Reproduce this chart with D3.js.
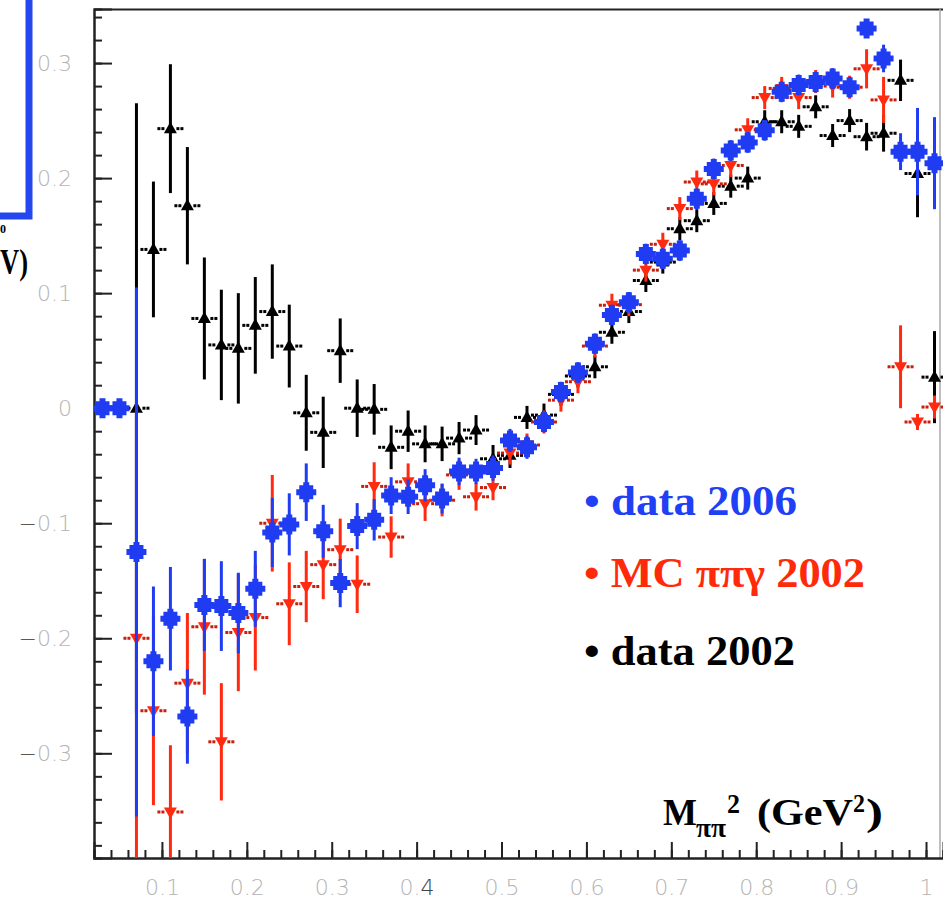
<!DOCTYPE html>
<html>
<head>
<meta charset="utf-8">
<script src="https://cdn.jsdelivr.net/npm/d3@7"></script>
<style>
  html, body { margin: 0; padding: 0; background: #fff; }
  svg { display: block; }
</style>
</head>
<body>
<svg id="chart" width="943" height="900"></svg>
<script>
// Bin centres in M_pipi^2 (GeV^2)
const massBins = [0.03, 0.05, 0.07, 0.09, 0.11, 0.13, 0.15, 0.17, 0.19, 0.21,
                  0.23, 0.25, 0.27, 0.29, 0.31, 0.33, 0.35, 0.37, 0.39, 0.41,
                  0.43, 0.45, 0.47, 0.49, 0.51, 0.53, 0.55, 0.57, 0.59, 0.61,
                  0.63, 0.65, 0.67, 0.69, 0.71, 0.73, 0.75, 0.77, 0.79, 0.81,
                  0.83, 0.85, 0.87, 0.89, 0.91, 0.93, 0.95, 0.97, 0.99, 1.01];

// data 2006
const data2006 = [0.0, 0.0, -0.125, -0.220, -0.183, -0.268, -0.171, -0.172, -0.178, -0.157,
                  -0.108, -0.101, -0.073, -0.107, -0.152, -0.1025, -0.097, -0.076, -0.077, -0.067,
                  -0.0785, -0.055, -0.055, -0.052, -0.028, -0.034, -0.012, 0.014, 0.031, 0.056,
                  0.081, 0.092, 0.134, 0.130, 0.137, 0.182, 0.208, 0.224, 0.231, 0.2415,
                  0.275, 0.281, 0.2835, 0.2865, 0.279, 0.330, 0.304, 0.223, 0.223, 0.213];
const data2006Err = [0, 0, 0.230, 0.065, 0.045, 0.041, 0.040, 0.039, 0.035, 0.033,
                     0.030, 0.027, 0.025, 0.023, 0.021, 0.020, 0.018, 0.016, 0.015, 0.014,
                     0.013, 0.012, 0.011, 0.011, 0.010, 0.010, 0.009, 0.009, 0.009, 0.009,
                     0.009, 0.009, 0.009, 0.009, 0.009, 0.009, 0.009, 0.009, 0.009, 0.009,
                     0.009, 0.009, 0.009, 0.009, 0.009, 0.005, 0.012, 0.016, 0.038, 0.040];

// MC pi pi gamma 2002
const mc2002 = [null, null, -0.200, -0.263, -0.351, -0.239, -0.190, -0.290, -0.195, -0.182,
                -0.100, -0.170, -0.155, -0.136, -0.123, -0.153, -0.068, -0.112, -0.064, -0.083,
                -0.080, -0.058, -0.077, -0.069, -0.039, -0.032, -0.012, 0.007, 0.023, 0.054,
                0.0895, 0.090, 0.120, 0.1425, 0.1735, 0.1966, 0.195, 0.211, 0.242, 0.270,
                0.278, 0.270, 0.284, 0.280, 0.279, 0.295, 0.268, 0.036, -0.012, 0.001];
const mc2002Err = [null, null, 0.200, 0.082, 0.058, 0.061, 0.059, 0.051, 0.051, 0.046,
                   0.042, 0.036, 0.031, 0.030, 0.027, 0.025, 0.021, 0.018, 0.016, 0.015,
                   0.014, 0.013, 0.012, 0.011, 0.010, 0.010, 0.010, 0.010, 0.010, 0.010,
                   0.010, 0.010, 0.010, 0.010, 0.010, 0.010, 0.010, 0.010, 0.010, 0.010,
                   0.010, 0.010, 0.010, 0.010, 0.010, 0.017, 0.020, 0.036, 0.007, 0.010];

// data 2002
const data2002 = [null, null, 0.0, 0.138, 0.243, 0.176, 0.078, 0.055, 0.052, 0.072,
                  0.084, 0.054, -0.004, -0.021, 0.050, 0.0, -0.001, -0.034, -0.020, -0.031,
                  -0.031, -0.026, -0.019, -0.044, -0.041, -0.008, -0.006, 0.012, 0.028, 0.036,
                  0.066, 0.084, 0.111, 0.127, 0.156, 0.163, 0.178, 0.193, 0.200, 0.249,
                  0.249, 0.245, 0.262, 0.237, 0.250, 0.236, 0.239, 0.285, 0.204, 0.027];
const data2002Err = [null, null, 0.265, 0.059, 0.056, 0.051, 0.053, 0.048, 0.048, 0.042,
                     0.041, 0.036, 0.033, 0.031, 0.028, 0.025, 0.022, 0.019, 0.018, 0.016,
                     0.015, 0.014, 0.013, 0.012, 0.011, 0.010, 0.010, 0.010, 0.010, 0.010,
                     0.010, 0.010, 0.010, 0.010, 0.010, 0.010, 0.010, 0.010, 0.010, 0.010,
                     0.010, 0.010, 0.010, 0.010, 0.010, 0.012, 0.016, 0.018, 0.038, 0.040];

// Axis tick labels
const xTickValues = [0.1, 0.2, 0.3, 0.4, 0.5, 0.6, 0.7, 0.8, 0.9, 1.0];
const xTickLabels = ["0.1", "0.2", "0.3", "0.4", "0.5", "0.6", "0.7", "0.8", "0.9", "1"];
const yTickValues = [-0.3, -0.2, -0.1, 0, 0.1, 0.2, 0.3];
const yTickLabels = ["\u22120.3", "\u22120.2", "\u22120.1", "0", "0.1", "0.2", "0.3"];

// Legend entries
const legendLabels = ["\u2022 data 2006", "\u2022 MC \u03c0\u03c0\u03b3 2002", "\u2022 data 2002"];

const svg = d3.select("#chart");
const W = 943, H = 900;
const plot = { left: 94, right: 943, top: 9, bottom: 858 };

const x = d3.scaleLinear().domain([0.02, 1.02]).range([plot.left, plot.right]);
const y = d3.scaleLinear().domain([-0.391, 0.347]).range([plot.bottom, plot.top]);

const serif = "'Liberation Serif', 'Times New Roman', serif";
const sans = "'DejaVu Sans', 'Liberation Sans', Arial, sans-serif";

const BLUE = "#1f3cf2", RED = "#ff2a10", RED_DARK = "#c81e0c", BLACK = "#000";

// ---- clipped fragment of the neighbouring panel on the left ----
svg.append("path")
  .attr("d", "M29,-5 L29,216 L-5,216")
  .attr("fill", "none").attr("stroke", "#2447ef").attr("stroke-width", 7);
svg.append("text").attr("x", 0).attr("y", 233)
  .attr("font-family", serif).attr("font-weight", "bold").attr("font-size", 12)
  .text("0");
svg.append("text").attr("x", 0).attr("y", 274)
  .attr("font-family", serif).attr("font-weight", "bold").attr("font-size", 36)
  .attr("textLength", 28).attr("lengthAdjust", "spacingAndGlyphs")
  .text("V)");

// ---- frame ----
svg.append("line").attr("x1", plot.left).attr("x2", W).attr("y1", plot.top + 0.5).attr("y2", plot.top + 0.5)
  .attr("stroke", "#222").attr("stroke-width", 2);
svg.append("line").attr("x1", 940).attr("x2", 940).attr("y1", plot.top).attr("y2", plot.bottom)
  .attr("stroke", "#aaa").attr("stroke-width", 1.5);

// ---- axes ----
function styleAxis(g) {
  g.select(".domain").attr("stroke", "#222").attr("stroke-width", 2);
  g.selectAll(".tick line").attr("stroke", "#222").attr("stroke-width", 2);
}

// y minor ticks
const yMinor = d3.range(-0.38, 0.341, 0.02).map(v => Math.round(v * 100) / 100);
svg.append("g").attr("transform", `translate(${plot.left},0)`)
  .call(d3.axisLeft(y).tickValues(yMinor).tickSize(-8).tickFormat(""))
  .call(styleAxis);
// y major ticks + labels
const yAxisG = svg.append("g").attr("transform", `translate(${plot.left},0)`)
  .call(d3.axisLeft(y).tickValues(yTickValues).tickSize(-18).tickPadding(22)
        .tickFormat((d, i) => yTickLabels[i]))
  .call(styleAxis);
yAxisG.selectAll(".tick text")
  .attr("font-family", sans).attr("font-size", 22).attr("font-weight", 300).attr("fill", "#b4b4b4")
  .each(function () {
    const t = d3.select(this);
    const s = t.text();
    if (s.startsWith("\u2212")) {
      t.text(null);
      t.append("tspan").attr("fill", "#333").text("\u2212");
      t.append("tspan").text(s.slice(1));
    }
  });

// x minor ticks
const xMinor = d3.range(0.02, 1.021, 0.02).map(v => Math.round(v * 100) / 100);
svg.append("g").attr("transform", `translate(0,${plot.bottom})`)
  .call(d3.axisBottom(x).tickValues(xMinor).tickSize(-8).tickFormat(""))
  .call(styleAxis);
// x major ticks + labels
const xAxisG = svg.append("g").attr("transform", `translate(0,${plot.bottom})`)
  .call(d3.axisBottom(x).tickValues(xTickValues).tickSize(-16).tickPadding(21)
        .tickFormat((d, i) => xTickLabels[i]))
  .call(styleAxis);
xAxisG.selectAll(".tick text")
  .attr("font-family", sans).attr("font-size", 22).attr("font-weight", 300).attr("fill", "#b4b4b4")
  .each(function () {
    const t = d3.select(this);
    if (t.text() === "0.4") {
      t.text(null);
      t.append("tspan").text("0.");
      t.append("tspan").attr("fill", "#444").text("4");
    }
  });

// ---- data ----
svg.append("clipPath").attr("id", "plotClip")
  .append("rect").attr("x", plot.left).attr("y", plot.top)
  .attr("width", plot.right - plot.left).attr("height", plot.bottom - plot.top);
const dataG = svg.append("g").attr("clip-path", "url(#plotClip)");

function points(vals, errs) {
  return massBins.map((m, i) => ({ m, v: vals[i], e: errs[i] })).filter(d => d.v !== null);
}

function drawErrors(g, pts, color) {
  g.selectAll("line.err").data(pts.filter(d => d.e > 0)).join("line")
    .attr("class", "err")
    .attr("x1", d => x(d.m)).attr("x2", d => x(d.m))
    .attr("y1", d => y(d.v - d.e)).attr("y2", d => y(d.v + d.e))
    .attr("stroke", color).attr("stroke-width", 3);
}

// short dotted x-error stubs on either side of a marker
function drawStubs(g, pts, color) {
  const offs = [[-13, 3], [-9, 3], [6, 3], [10, 3]];
  pts.forEach(d => {
    offs.forEach(([o, w]) => {
      g.append("rect").attr("x", x(d.m) + o).attr("y", y(d.v) - 1.5)
        .attr("width", w).attr("height", 3).attr("fill", color);
    });
  });
}

// data 2002: upward triangles
const pts2002 = points(data2002, data2002Err);
const g2002 = dataG.append("g");
drawErrors(g2002, pts2002, BLACK);
drawStubs(g2002, pts2002, BLACK);
g2002.selectAll("path.mk").data(pts2002).join("path")
  .attr("class", "mk")
  .attr("transform", d => `translate(${x(d.m)},${y(d.v)})`)
  .attr("d", "M0,-7 L6.5,4.5 L-6.5,4.5 Z").attr("fill", BLACK);

// MC 2002: downward triangles
const ptsMC = points(mc2002, mc2002Err);
const gMC = dataG.append("g");
drawErrors(gMC, ptsMC, RED);
drawStubs(gMC, ptsMC, RED_DARK);
gMC.selectAll("path.mk").data(ptsMC).join("path")
  .attr("class", "mk")
  .attr("transform", d => `translate(${x(d.m)},${y(d.v)})`)
  .attr("d", "M0,7 L6.5,-4.5 L-6.5,-4.5 Z").attr("fill", RED);

// data 2006: filled squares
const pts2006 = points(data2006, data2006Err);
const g2006 = dataG.append("g");
drawErrors(g2006, pts2006, BLUE);
g2006.selectAll("path.mk").data(pts2006).join("path")
  .attr("class", "mk")
  .attr("transform", d => `translate(${x(d.m)},${y(d.v)})`)
  .attr("d", "M-7,-7 H7 V7 H-7 Z M-10,-3 H10 V3 H-10 Z M-3,-10 H3 V10 H-3 Z")
  .attr("fill", BLUE);

// ---- legend ----
const legendColors = ["#1f40f4", "#ff2a0a", "#000"];
const legendY = [515, 587, 665];
const legendWidths = [213, 281, 211];
legendLabels.forEach((s, i) => {
  svg.append("text").attr("x", 584).attr("y", legendY[i])
    .attr("font-family", serif).attr("font-weight", "bold").attr("font-size", 42)
    .attr("fill", legendColors[i])
    .attr("textLength", legendWidths[i]).attr("lengthAdjust", "spacingAndGlyphs")
    .text(s);
});

// ---- x-axis title: M_pipi^2 (GeV^2) ----
const titleParts = [
  { s: "M",            x: 663, y: 825, size: 38, len: 34 },
  { s: "\u03c0\u03c0", x: 696, y: 837, size: 28, len: 30 },
  { s: "2",            x: 727, y: 813, size: 27, len: 13 },
  { s: "(GeV",         x: 757, y: 825, size: 38, len: 96 },
  { s: "2",            x: 853, y: 812, size: 25, len: 12 },
  { s: ")",            x: 866, y: 825, size: 38, len: 17 }
];
titleParts.forEach(p => {
  svg.append("text").attr("x", p.x).attr("y", p.y)
    .attr("font-family", serif).attr("font-weight", "bold").attr("font-size", p.size)
    .attr("textLength", p.len).attr("lengthAdjust", "spacingAndGlyphs")
    .text(p.s);
});
</script>
</body>
</html>
